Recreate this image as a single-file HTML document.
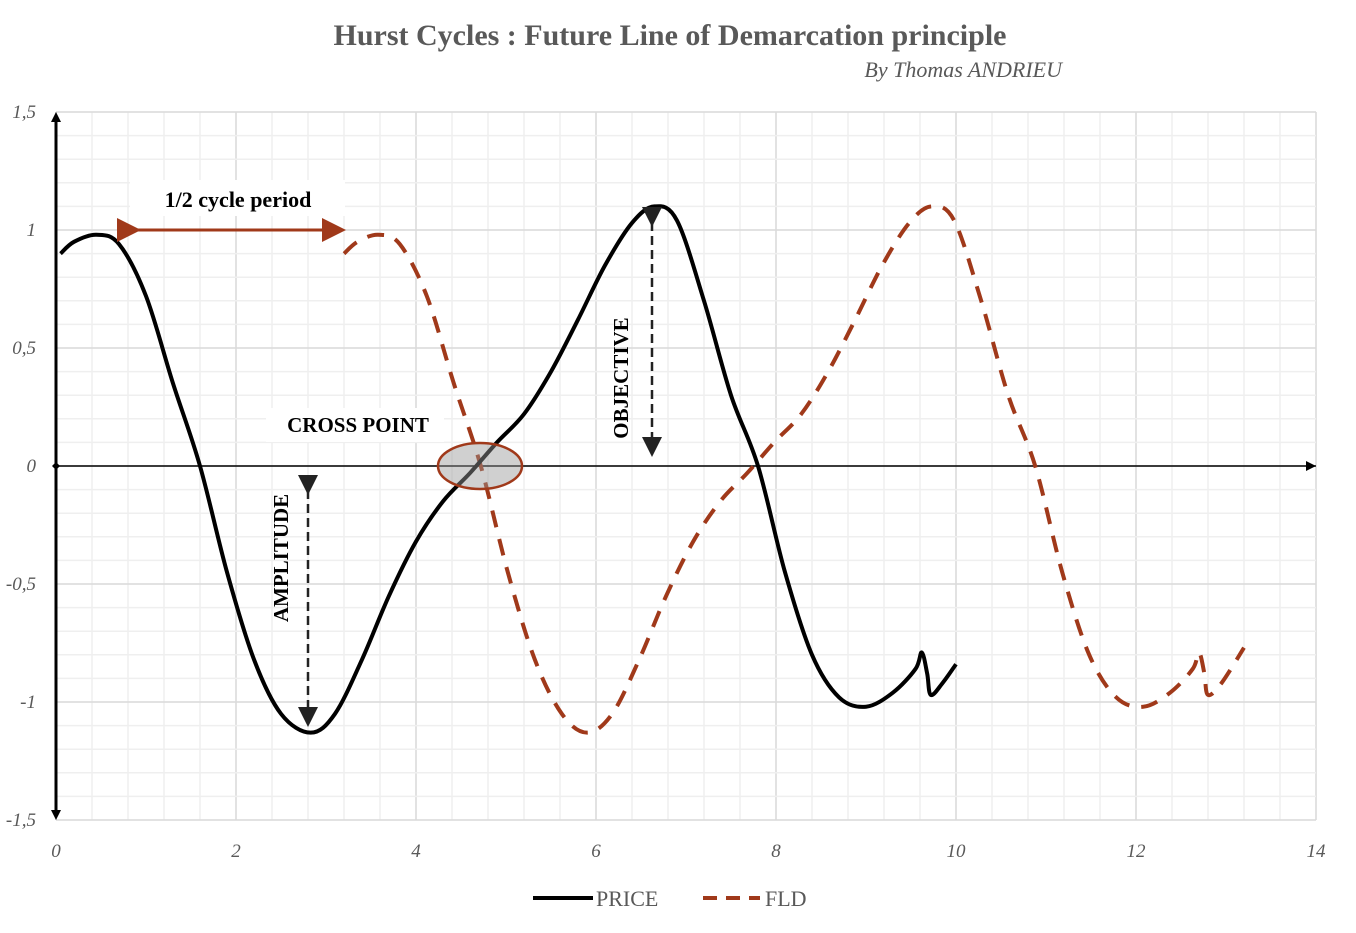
<!DOCTYPE html>
<html><head><meta charset="utf-8"><style>
body{margin:0;background:#fff}
svg text{font-family:"Liberation Serif",serif}
</style></head><body>
<svg id="chart" width="1356" height="928" viewBox="0 0 1356 928">
<text x="670" y="45" text-anchor="middle" font-size="30" font-weight="bold" fill="#595959">Hurst Cycles : Future Line of Demarcation principle</text>
<text x="1062" y="77" text-anchor="end" font-size="22" font-style="italic" fill="#595959">By Thomas ANDRIEU</text>
<g id="grid"></g>
<g id="ticks"></g>
<g id="series"></g>
<g id="annot"></g>
<g>
<line x1="533" y1="898" x2="593" y2="898" stroke="#000" stroke-width="4"/>
<text x="596" y="906" font-size="22" fill="#595959">PRICE</text>
<line x1="703" y1="898" x2="760" y2="898" stroke="#a0391a" stroke-width="4" stroke-dasharray="14,9"/>
<text x="765" y="906" font-size="22" fill="#595959">FLD</text>
</g>
</svg>
<script>
const xTicks=[0,2,4,6,8,10,12,14];
const yTicks=[1.5,1,0.5,0,-0.5,-1,-1.5];
const yTickLabels=["1,5","1","0,5","0","-0,5","-1","-1,5"];
const priceX=[0.05,0.2,0.45,0.7,1.0,1.3,1.6,1.9,2.2,2.5,2.83,3.1,3.4,3.7,4.0,4.3,4.6,4.9,5.2,5.5,5.8,6.1,6.4,6.65,6.9,7.2,7.5,7.8,8.1,8.4,8.7,9.0,9.3,9.55,9.62,9.68,9.72,9.85,10.0];
const priceY=[0.9,0.95,0.98,0.94,0.72,0.35,0.0,-0.45,-0.82,-1.05,-1.13,-1.05,-0.82,-0.55,-0.32,-0.15,-0.03,0.1,0.22,0.4,0.62,0.85,1.03,1.1,1.04,0.7,0.3,0.0,-0.45,-0.8,-0.98,-1.02,-0.96,-0.86,-0.79,-0.88,-0.97,-0.92,-0.84];
const fldX=[3.2,3.35,3.58,3.82,4.12,4.42,4.72,5.02,5.32,5.62,5.9,6.18,6.48,6.78,7.08,7.38,7.68,7.98,8.28,8.58,8.88,9.18,9.48,9.73,9.98,10.28,10.58,10.88,11.18,11.48,11.78,12.08,12.38,12.63,12.7,12.76,12.8,12.95,13.2];
const fldY=[0.9,0.95,0.98,0.94,0.72,0.35,0.0,-0.45,-0.82,-1.05,-1.13,-1.05,-0.82,-0.55,-0.32,-0.15,-0.03,0.1,0.22,0.4,0.62,0.85,1.03,1.1,1.04,0.7,0.3,0.0,-0.45,-0.8,-0.98,-1.02,-0.96,-0.86,-0.79,-0.88,-0.97,-0.92,-0.77];
const NS="http://www.w3.org/2000/svg";
const X=v=>56+v*90, Y=v=>466-v*236;
function mk(p,t,a){const e=document.createElementNS(NS,t);for(const k in a)e.setAttribute(k,a[k]);p.appendChild(e);return e;}
const grid=document.getElementById('grid');
for(let i=0;i<=35;i++){const v=i*0.4;const major=Math.abs(v/2-Math.round(v/2))<1e-6;
 const l=mk(grid,'line',{x1:X(v),x2:X(v),y1:Y(1.5),y2:Y(-1.5),stroke:major?'#d9d9d9':'#efefef','stroke-width':major?1.5:1.5});
 
 }
for(let i=-15;i<=15;i++){const v=i*0.1;const major=i%5===0;
 const l=mk(grid,'line',{x1:X(0),x2:X(14),y1:Y(v),y2:Y(v),stroke:major?'#d9d9d9':'#efefef','stroke-width':1.5});
 
 }
const tk=document.getElementById('ticks');
xTicks.forEach(v=>{const t=mk(tk,'text',{x:X(v),y:857,'text-anchor':'middle','font-size':19,'font-style':'italic',fill:'#595959'});t.textContent=v;
 
 });
yTicks.forEach((v,i)=>{const t=mk(tk,'text',{x:36,y:Y(v)+6,'text-anchor':'end','font-size':19,'font-style':'italic',fill:'#595959'});t.textContent=yTickLabels[i];
 
 });
// axes
const ax=mk(tk,'line',{x1:X(0),x2:X(14),y1:Y(0),y2:Y(0),stroke:'#000','stroke-width':1.5});


const ay=mk(tk,'line',{x1:X(0),x2:X(0),y1:Y(1.5)+4,y2:Y(-1.5)-4,stroke:'#000','stroke-width':3});


const ah=mk(tk,'path',{d:`M${X(14)},${Y(0)} l-10,-5 v10z M${X(0)},${Y(1.5)} l-5,10 h10z M${X(0)},${Y(-1.5)} l-5,-10 h10z M${X(0)-4},${Y(0)} l4,-4 l4,4 l-4,4z`,fill:'#000'});


function pathD(xs,ys){const p=xs.map((x,i)=>[X(x),Y(ys[i])]);let d=`M${p[0][0]},${p[0][1]}`;
 for(let i=0;i<p.length-1;i++){const p0=p[Math.max(0,i-1)],p1=p[i],p2=p[i+1],p3=p[Math.min(p.length-1,i+2)];
  d+=` C${p1[0]+(p2[0]-p0[0])/6},${p1[1]+(p2[1]-p0[1])/6} ${p2[0]-(p3[0]-p1[0])/6},${p2[1]-(p3[1]-p1[1])/6} ${p2[0]},${p2[1]}`;}
 return d;}
const ser=document.getElementById('series');
const fl=mk(ser,'path',{d:pathD(fldX,fldY),fill:'none',stroke:'#a0391a','stroke-width':4,'stroke-dasharray':'17,12'});


const pr=mk(ser,'path',{d:pathD(priceX,priceY),fill:'none',stroke:'#000','stroke-width':4});


</script>
<svg width="1356" height="928" style="position:absolute;left:0;top:0">
<defs><marker id="ab" markerWidth="8" markerHeight="8" refX="6" refY="4" orient="auto"><path d="M0,0 L8,4 L0,8z" fill="#a0391a"/></marker>
<marker id="ak" markerWidth="8" markerHeight="8" refX="6" refY="4" orient="auto"><path d="M0,0 L8,4 L0,8z" fill="#222"/></marker></defs>
<rect x="130" y="180" width="215" height="36" fill="#fff"/>
<text x="238" y="207" text-anchor="middle" font-size="22" font-weight="bold" fill="#000">1/2 cycle period</text>
<line x1="135" y1="230" x2="340" y2="230" stroke="#a0391a" stroke-width="3" marker-start="url(#ab)" marker-end="url(#ab)" transform=""/>
<rect x="266" y="408" width="178" height="34" fill="#fff"/>
<text x="358" y="432" text-anchor="middle" font-size="21" font-weight="bold" fill="#000">CROSS POINT</text>
<ellipse cx="480" cy="466" rx="42" ry="23" fill="rgba(150,150,150,0.45)" stroke="#a0391a" stroke-width="2.5"/>
<line x1="308" y1="490" x2="308" y2="722" stroke="#222" stroke-width="2.5" stroke-dasharray="9,5" marker-start="url(#ak)" marker-end="url(#ak)"/>
<text transform="translate(288,558) rotate(-90)" text-anchor="middle" font-size="21" font-weight="bold" fill="#000">AMPLITUDE</text>
<line x1="652" y1="222" x2="652" y2="452" stroke="#222" stroke-width="2.5" stroke-dasharray="9,5" marker-start="url(#ak)" marker-end="url(#ak)"/>
<text transform="translate(628,378) rotate(-90)" text-anchor="middle" font-size="21" font-weight="bold" fill="#000">OBJECTIVE</text>
</svg>
</body></html>
